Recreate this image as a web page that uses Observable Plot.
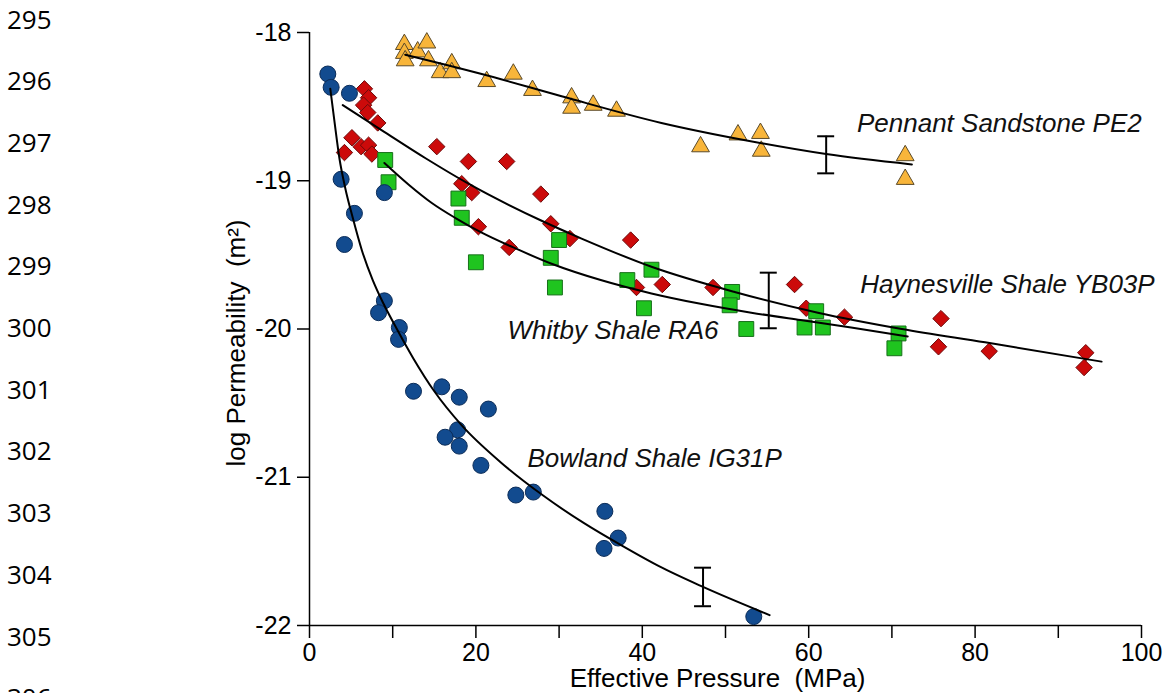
<!DOCTYPE html>
<html>
<head>
<meta charset="utf-8">
<script src="https://cdn.jsdelivr.net/npm/d3@7"></script>
<script src="https://cdn.jsdelivr.net/npm/@observablehq/plot@0.6"></script>
<style>
  html, body { margin: 0; padding: 0; background: #fff; }
  #chart { position: relative; width: 1168px; height: 693px; overflow: hidden; }
</style>
</head>
<body>
<div id="chart"></div>
<script>
// ---------- data ----------
const xDomain = [0, 100];
const yDomain = [-22, -18];
const xTickValues = [0, 10, 20, 30, 40, 50, 60, 70, 80, 90, 100];
const xTickLabels = [0, 20, 40, 60, 80, 100];
const yTickValues = [-18, -19, -20, -21, -22];
const lineNumbers = [295, 296, 297, 298, 299, 300, 301, 302, 303, 304, 305, 306];

const bowland = [[2.2,-18.28],[2.6,-18.37],[4.8,-18.41],[3.8,-18.99],[5.4,-19.22],[4.2,-19.43],[9.0,-19.08],
  [9.0,-19.81],[8.3,-19.89],[10.8,-19.99],[10.7,-20.07],[12.5,-20.42],[15.9,-20.39],[18.0,-20.46],[21.5,-20.54],
  [17.8,-20.68],[16.3,-20.73],[18.0,-20.79],[20.6,-20.92],[24.8,-21.12],[26.9,-21.10],[35.5,-21.23],[37.1,-21.41],
  [35.4,-21.48],[53.4,-21.94]];

const haynesville = [[6.6,-18.38],[7.1,-18.44],[6.5,-18.49],[7.0,-18.54],[8.2,-18.61],[5.1,-18.71],[6.2,-18.77],
  [7.1,-18.76],[7.5,-18.82],[4.2,-18.81],[15.3,-18.77],[19.1,-18.87],[23.7,-18.87],[18.3,-19.02],[19.5,-19.08],
  [27.8,-19.09],[20.3,-19.31],[29.0,-19.29],[24.0,-19.45],[31.3,-19.39],[38.6,-19.40],[39.3,-19.72],[42.4,-19.70],
  [48.5,-19.72],[58.3,-19.70],[59.7,-19.86],[64.3,-19.92],[75.9,-19.93],[75.6,-20.12],[81.7,-20.15],[93.3,-20.16],
  [93.1,-20.26]];

const whitby = [[9.1,-18.86],[9.5,-19.01],[17.9,-19.12],[18.3,-19.25],[20.0,-19.55],[29.0,-19.52],[30.0,-19.40],
  [29.5,-19.72],[41.1,-19.60],[38.2,-19.67],[40.2,-19.86],[50.8,-19.75],[50.5,-19.84],[52.5,-20.00],[60.9,-19.88],
  [59.5,-19.99],[61.7,-19.99],[70.8,-20.03],[70.3,-20.13]];

const pennant = [[11.4,-18.08],[11.4,-18.14],[11.5,-18.19],[13.0,-18.13],[14.1,-18.07],[14.3,-18.19],[15.7,-18.27],
  [17.1,-18.21],[17.1,-18.27],[21.3,-18.33],[24.5,-18.28],[26.8,-18.39],[31.5,-18.44],[31.5,-18.51],[34.1,-18.49],
  [36.9,-18.53],[47.0,-18.77],[51.5,-18.69],[54.2,-18.68],[54.3,-18.80],[71.6,-18.83],[71.6,-18.99]];

// fitted curves, points
const bowlandFit = [[2.5,-18.38],[3.0,-18.6],[3.6,-18.85],[4.3,-19.05],[5.2,-19.25],[6.3,-19.47],[7.6,-19.67],
  [8.9,-19.83],[10.5,-20.0],[12.5,-20.2],[15.0,-20.42],[18.3,-20.65],[23.0,-20.9],[28.0,-21.12],[33.0,-21.31],
  [37.5,-21.46],[42.0,-21.6],[47.3,-21.74],[55.3,-21.93]];
const haynesvilleFit = [[4.0,-18.49],[8.7,-18.66],[14.0,-18.85],[19.1,-19.02],[27.9,-19.27],[32.7,-19.39],
  [41.1,-19.58],[51.1,-19.75],[61.1,-19.89],[71.2,-20.0],[81.2,-20.09],[95.2,-20.22]];
const whitbyFit = [[9.0,-18.88],[12.0,-19.03],[14.7,-19.15],[17.5,-19.25],[20.7,-19.35],[24.5,-19.45],[29.1,-19.56],
  [35.0,-19.67],[41.1,-19.76],[47.0,-19.83],[53.1,-19.89],[59.0,-19.94],[65.1,-19.99],[71.9,-20.05]];
const pennantFit = [[11.5,-18.15],[20.7,-18.28],[30.3,-18.43],[42.3,-18.61],[52.7,-18.73],[62.1,-18.82],[72.4,-18.89]];

// error bars: x, low, high
const errorBars = [[62.1,-18.95,-18.70],[55.2,-19.995,-19.62],[47.3,-21.87,-21.61]];

// sample labels: text, x, baseline y
const sampleLabels = [
  ["Pennant Sandstone PE2", 65.8, -18.674],
  ["Haynesville Shale YB03P", 66.2, -19.760],
  ["Whitby Shale RA6", 23.8, -20.067],
  ["Bowland Shale IG31P", 26.2, -20.929]
];

const xTitle = "Effective Pressure\u00a0 (MPa)";
const yTitle = "log Permeability\u00a0 (m\u00b2)";

// ---------- build ----------
const pts = a => a.map(([x, y]) => ({x, y}));
const bars = errorBars.map(([x, lo, hi]) => ({x, lo, hi}));
const labels = sampleLabels.map(([text, x, y]) => ({text, x, y}));

const font = "'Liberation Sans', Arial, Helvetica, sans-serif";

const chart = Plot.plot({
  width: 1168,
  height: 693,
  marginLeft: 309,
  marginRight: 27,
  marginTop: 32,
  marginBottom: 68,
  style: {fontFamily: font, fontSize: "25px", background: "white", color: "black"},
  x: {domain: xDomain},
  y: {domain: yDomain},
  marks: [
    Plot.axisX({ticks: xTickValues, tickSize: 13, tickPadding: 5, strokeWidth: 1.5, fontSize: 25,
      tickFormat: d => xTickLabels.includes(d) ? String(d) : "", label: null}),
    Plot.axisY({ticks: yTickValues, tickSize: 12, tickPadding: 6, strokeWidth: 1.5, fontSize: 25,
      tickFormat: d => String(d), label: null}),
    Plot.ruleX([xDomain[0]], {stroke: "black", strokeWidth: 1.5}),
    Plot.ruleY([yDomain[0]], {stroke: "black", strokeWidth: 1.5}),
    // markers
    Plot.dot(pts(pennant), {x: "x", y: "y", symbol: "triangle", r: 6.6, fill: "#f8b53a", stroke: "#5a4a2a", strokeWidth: 1}),
    Plot.dot(pts(haynesville), {x: "x", y: "y", symbol: "diamond2", r: 7.4, fill: "#cc0a0a", stroke: "#6e0a0a", strokeWidth: 1}),
    Plot.dot(pts(whitby), {x: "x", y: "y", symbol: "square", r: 8.4, fill: "#1fc41f", stroke: "#17701a", strokeWidth: 1}),
    Plot.dot(pts(bowland), {x: "x", y: "y", r: 8, fill: "#124b8f", stroke: "#0b2c58", strokeWidth: 1}),
    // fitted curves
    Plot.line(pts(pennantFit), {x: "x", y: "y", curve: "monotone-x", stroke: "black", strokeWidth: 2}),
    Plot.line(pts(haynesvilleFit), {x: "x", y: "y", curve: "monotone-x", stroke: "black", strokeWidth: 2}),
    Plot.line(pts(whitbyFit), {x: "x", y: "y", curve: "monotone-x", stroke: "black", strokeWidth: 2}),
    Plot.line(pts(bowlandFit), {x: "x", y: "y", curve: "monotone-x", stroke: "black", strokeWidth: 2}),
    // error bars
    Plot.ruleX(bars, {x: "x", y1: "lo", y2: "hi", stroke: "black", strokeWidth: 2}),
    Plot.ruleY(bars, {y: "lo", x1: "x", x2: "x", insetLeft: -8.5, insetRight: -8.5, stroke: "black", strokeWidth: 2}),
    Plot.ruleY(bars, {y: "hi", x1: "x", x2: "x", insetLeft: -8.5, insetRight: -8.5, stroke: "black", strokeWidth: 2}),
    // labels
    Plot.text(labels, {x: "x", y: "y", text: "text", textAnchor: "start", lineAnchor: "bottom",
      fontStyle: "italic", fontSize: 26, fill: "#111"}),
    // axis titles
    Plot.text([xTitle], {frameAnchor: "bottom", textAnchor: "middle", lineAnchor: "bottom", dy: 61, dx: -8, fontSize: 26}),
    Plot.text([yTitle], {frameAnchor: "left", textAnchor: "middle", lineAnchor: "middle", rotate: -90, dx: -73, dy: 14, fontSize: 26})
  ]
});

document.getElementById("chart").appendChild(chart);

// document line numbers in the left margin
const svg = d3.select(chart);
svg.append("g")
  .attr("font-family", "'Open Sans', 'Noto Sans', sans-serif")
  .attr("font-size", 26)
  .attr("text-anchor", "start")
  .attr("fill", "black")
  .selectAll("text")
  .data(lineNumbers)
  .join("text")
  .attr("x", 7)
  .attr("y", (d, i) => 19.2 + i * 61.7 + 9.3)
  .text(d => d);
</script>
</body>
</html>
